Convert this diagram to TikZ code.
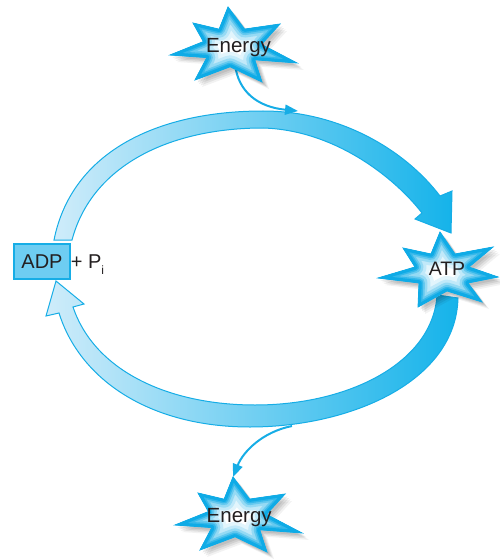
\documentclass[tikz,border=0pt]{standalone}
\usepackage{fontspec}
\setmainfont{Liberation Sans}
\usetikzlibrary{arrows.meta}

\definecolor{inkgray}{HTML}{231F20}
\definecolor{loopcyan}{HTML}{15B3EA}
\definecolor{looppale}{HTML}{CFECFA}
\definecolor{loopmidA}{HTML}{8FD5F5}
\definecolor{loopmidB}{HTML}{62C8F1}
\definecolor{edgecyan}{HTML}{16ADE6}
\definecolor{starcyan}{HTML}{0FABE6}
\definecolor{adpfill}{HTML}{6ECDF2}

% seven-pointed burst outlines, relative to their centres (y grows downwards)
\def\energystar{(-4,-40) -- (12.6,-17.9) -- (48,-23) -- (29.5,-2.6) -- (65,16) -- (22.7,12.8) -- (30,35) -- (-1.9,19.8) -- (-37,33) -- (-25.2,10.6) -- (-62,8) -- (-28.6,-5.4) -- (-39,-24) -- (-12.9,-17.8) -- cycle}
\def\atpstar{(-3,-40) -- (12,-18) -- (50,-25) -- (26,-5) -- (55,5) -- (25,11) -- (39,30) -- (4,19) -- (-25,35) -- (-24,11) -- (-65,6) -- (-28,-5) -- (-40,-24) -- (-12,-18) -- cycle}

% burst with soft shadow and an inner cyan glow
\newcommand\glowburst[2]{%
  \begin{scope}[shift={#1}]
    \foreach \shoff/\shop in {7/0.05,5.5/0.07,4/0.08,2.5/0.08}{%
      \fill[black,opacity=\shop,shift={(\shoff,\shoff)}] #2;}
    \begin{scope}
      \clip #2;
      \fill[white] #2;
      \draw[starcyan!12,line width=30,line join=round] #2;
      \draw[starcyan!26,line width=23,line join=round] #2;
      \draw[starcyan!44,line width=17,line join=round] #2;
      \draw[starcyan!64,line width=12,line join=round] #2;
      \draw[starcyan!84,line width=8.5,line join=round] #2;
      \draw[starcyan,line width=5.5,line join=round] #2;
    \end{scope}
    \draw[starcyan,line width=0.8,line join=miter] #2;
  \end{scope}}

\tikzset{
  lbl/.style={text=inkgray,font=\fontsize{20.5}{24}\selectfont,inner sep=0pt},
  adpbox/.style={draw=edgecyan,fill=adpfill,line width=1.3,minimum width=56,
    minimum height=35,inner sep=0pt,text=inkgray,font=\fontsize{20}{24}\selectfont},
  looparrow/.style={draw=edgecyan,line width=1,line join=miter},
  thinarrow/.style={draw=edgecyan,line width=2,
    -{Triangle[length=13pt,width=10pt]}}
}

\begin{document}
\begin{tikzpicture}[x=1pt,y=-1pt]
\useasboundingbox (0,0) rectangle (500,559);

% upper half of the cycle: ADP + Pi -> ATP
\shadedraw[looparrow,left color=looppale,middle color=loopmidA,right color=loopcyan]
  (54,240) .. controls (72,150) and (160,111) .. (263,111)
  .. controls (340,111) and (405,150) .. (440,196)
  -- (452,191) -- (451,233) -- (415,219) -- (422,213)
  .. controls (395,178) and (335,130) .. (263,128)
  .. controls (170,128) and (92,165) .. (72,240)
  -- cycle;

% lower half of the cycle: ATP -> ADP + Pi
\shadedraw[looparrow,left color=looppale,middle color=loopmidB,right color=loopcyan]
  (458,298) .. controls (456,382) and (350,427) .. (250,427)
  .. controls (150,427) and (80,380) .. (59,313)
  -- (46,316) -- (56,281) -- (84,304) -- (73,307)
  .. controls (95,372) and (170,405) .. (255,405)
  .. controls (350,405) and (433,362) .. (437,295)
  -- cycle;

% energy in and out
\coordinate (eInStart) at (235,64);
\coordinate (eInEnd) at (298,111);
\coordinate (eOutStart) at (292,426);
\coordinate (eOutEnd) at (233,477);
\draw[thinarrow] (eInStart) .. controls (238,92) and (258,107) .. (eInEnd);
\draw[thinarrow] (eOutStart) .. controls (262,432) and (243,452) .. (eOutEnd);

% bursts
\glowburst{(232,47)}{\energystar}
\glowburst{(443,272)}{\atpstar}
\glowburst{(237,517)}{\energystar}

% labels
\node[lbl,anchor=base] (energyIn) at (238.5,52.7) {Energy};
\node[lbl,anchor=base,font=\fontsize{19.5}{24}\selectfont] (atp) at (447,275.7) {ATP};
\node[lbl,anchor=base] (energyOut) at (239.2,522.3) {Energy};
\node[adpbox] (adp) at (42,261.5) {ADP};
\node[lbl,anchor=base west,font=\fontsize{20}{24}\selectfont] (pi) at (adp.base east)
  {+ P\raisebox{-6pt}{\fontsize{12}{12}\selectfont i}};
\end{tikzpicture}
\end{document}
